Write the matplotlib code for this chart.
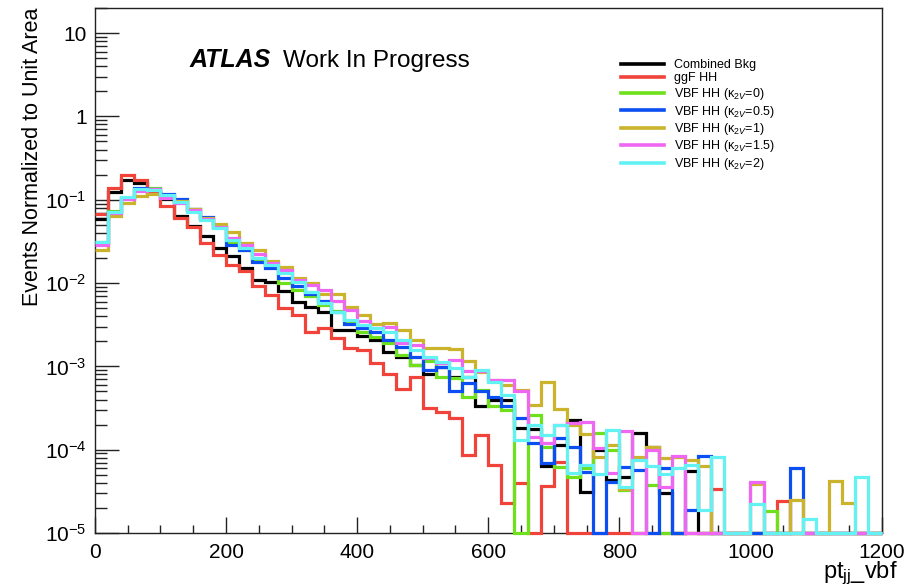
import numpy as np
import matplotlib
matplotlib.use("Agg")
import matplotlib.pyplot as plt
from matplotlib.lines import Line2D
from matplotlib.ticker import FixedLocator, FixedFormatter, MultipleLocator, LogLocator, NullFormatter

plt.rcParams["font.family"] = ["Liberation Sans", "DejaVu Sans"]
plt.rcParams["mathtext.fontset"] = "custom"
plt.rcParams["mathtext.rm"] = "Liberation Sans"
plt.rcParams["mathtext.it"] = "Liberation Sans:italic"
plt.rcParams["mathtext.bf"] = "Liberation Sans:bold"

# 60 bins of 20 GeV in pt_jj_vbf, 0 - 1200
bin_edges = np.arange(0, 1201, 20)

combined_bkg = [0.059, 0.123, 0.173, 0.158, 0.124, 0.101, 0.063, 0.049, 0.037, 0.026,
                0.021, 0.015, 0.011, 0.0104, 0.0080, 0.0059, 0.0052, 0.0045, 0.0027, 0.0027,
                0.0023, 0.0021, 0.0015, 0.0013, 0.00104, 0.00082, 0.00097, 0.00075, 0.00075, 0.00033,
                0.00040, 0.00040, 0.00018, 0.000177, 6.3e-5, 1.14e-4, 2.3e-4, 3.1e-5, 9.9e-5, 4.3e-5,
                4.7e-5, 1.57e-4, 1.09e-4, 3.0e-5, 0, 5.6e-5, 0, 0, 0, 0,
                0, 0, 0, 0, 0, 0, 0, 0, 0, 0]

ggf_hh = [0.067, 0.140, 0.199, 0.173, 0.121, 0.083, 0.060, 0.0475, 0.030, 0.0217,
          0.0166, 0.0140, 0.0091, 0.0072, 0.0050, 0.0041, 0.0026, 0.0029, 0.0022, 0.00165,
          0.00157, 0.00109, 0.00081, 0.00053, 0.00075, 0.00032, 0.00028, 0.00024, 8.6e-5, 1.5e-4,
          6.5e-5, 2.3e-5, 4.0e-5, 0, 3.7e-5, 7.2e-5, 0, 0, 0, 0,
          0, 0, 0, 0, 0, 0, 0, 3.35e-5, 0, 0,
          0, 0, 2.4e-5, 0, 0, 0, 0, 0, 0, 0]

vbf_k2v_0 = [0.031, 0.073, 0.106, 0.135, 0.138, 0.115, 0.097, 0.077, 0.061, 0.047,
             0.031, 0.025, 0.0195, 0.0155, 0.0100, 0.0083, 0.0069, 0.0055, 0.0046, 0.0035,
             0.0026, 0.00225, 0.0019, 0.00137, 0.00104, 0.00116, 0.00075, 0.00073, 0.00043, 0.00052,
             0.00033, 0.00030, 0, 2.6e-4, 1.09e-4, 6.2e-5, 4.7e-5, 6.0e-5, 1.57e-4, 9.9e-5,
             3.3e-5, 0, 3.8e-5, 0, 0, 0, 0, 0, 0, 0,
             0, 1.84e-5, 0, 0, 0, 0, 0, 0, 0, 0]

vbf_k2v_05 = [0.030, 0.072, 0.105, 0.137, 0.135, 0.116, 0.102, 0.078, 0.062, 0.047,
              0.029, 0.0249, 0.0181, 0.0153, 0.0114, 0.0093, 0.0074, 0.0061, 0.0045, 0.0032,
              0.0029, 0.0026, 0.00207, 0.00173, 0.00129, 0.00091, 0.00099, 0.0005, 0.00063, 0.0005,
              0.00043, 0.00033, 2.4e-4, 1.19e-4, 6.9e-5, 1.37e-4, 1.09e-4, 5.4e-5, 0, 4.1e-5,
              6.2e-5, 5.7e-5, 0, 6.0e-5, 0, 1.9e-5, 8.4e-5, 0, 0, 0,
              0, 0, 0, 6.0e-5, 0, 0, 0, 0, 0, 0]

vbf_k2v_1 = [0.0252, 0.064, 0.091, 0.112, 0.116, 0.111, 0.097, 0.078, 0.061, 0.051,
             0.0407, 0.030, 0.0249, 0.0184, 0.0157, 0.0116, 0.0100, 0.0074, 0.0074, 0.0052,
             0.0041, 0.0032, 0.0033, 0.00273, 0.00207, 0.00165, 0.00165, 0.0016, 0.00117, 0.00086,
             0.00069, 0.0006, 0.00052, 0.00034, 0.00065, 3.1e-4, 2.0e-4, 1.54e-4, 8.2e-5, 1.14e-4,
             3.4e-5, 8.2e-5, 1.09e-4, 7.9e-5, 8.2e-5, 7.5e-5, 6.4e-5, 0, 0, 0,
             3.9e-5, 0, 0, 2.5e-5, 0, 0, 4.2e-5, 2.3e-5, 0, 0]

vbf_k2v_15 = [0.0286, 0.070, 0.101, 0.128, 0.134, 0.105, 0.091, 0.0755, 0.059, 0.047,
              0.0345, 0.0286, 0.0222, 0.0173, 0.0144, 0.0109, 0.0095, 0.0083, 0.0061, 0.0048,
              0.0035, 0.0029, 0.0030, 0.0019, 0.0018, 0.00125, 0.00111, 0.00119, 0.00089, 0.00089,
              0.00069, 0.00069, 0.0005, 1.43e-4, 1.19e-4, 1.98e-4, 2.07e-4, 2.17e-4, 1.04e-4, 5.3e-5,
              1.69e-4, 0, 9.9e-5, 3.6e-5, 8.4e-5, 0, 0, 0, 0, 0,
              4.1e-5, 0, 0, 0, 0, 0, 0, 0, 0, 0]

vbf_k2v_2 = [0.0309, 0.072, 0.107, 0.135, 0.131, 0.114, 0.095, 0.072, 0.057, 0.046,
             0.033, 0.0267, 0.0202, 0.0165, 0.0131, 0.0102, 0.0078, 0.0057, 0.0045, 0.0036,
             0.0031, 0.0029, 0.0026, 0.00207, 0.00157, 0.00129, 0.00113, 0.00096, 0.00075, 0.00091,
             0.00065, 0.00045, 1.3e-4, 1.98e-4, 1.5e-4, 1.98e-4, 5.2e-5, 6.5e-5, 5.1e-5, 1.72e-4,
             3.6e-5, 7.5e-5, 6.4e-5, 5.1e-5, 6.0e-5, 6.5e-5, 1.9e-5, 8.1e-5, 0, 0,
             2.2e-5, 0, 0, 0, 1.46e-5, 0, 0, 0, 4.7e-5, 0]

series_labels = ["Combined Bkg", "ggF HH",
                 "VBF HH (κ$_{2V}$=0)", "VBF HH (κ$_{2V}$=0.5)",
                 "VBF HH (κ$_{2V}$=1)", "VBF HH (κ$_{2V}$=1.5)",
                 "VBF HH (κ$_{2V}$=2)"]
series_colors = ["#000000", "#f0433a", "#6fe01c", "#0b4ff2", "#cbb42c", "#ee66f2", "#62f2f4"]
series_values = [combined_bkg, ggf_hh, vbf_k2v_0, vbf_k2v_05, vbf_k2v_1, vbf_k2v_15, vbf_k2v_2]

y_min, y_max = 1e-5, 20.0

fig = plt.figure(figsize=(9.08, 5.87), dpi=100)
ax = fig.add_axes([94.9 / 908, 1 - 533 / 587, 786.6 / 908, 525 / 587])

for vals, color in zip(series_values, series_colors):
    v = np.asarray(vals, dtype=float)
    # empty bins are drawn on the bottom of the frame
    v = np.where(v > 0, v, y_min)
    ax.stairs(v, bin_edges, baseline=None, color=color, linewidth=2.3, clip_on=False, zorder=3)

ax.set_yscale("log")
ax.set_xlim(0, 1200)
ax.set_ylim(y_min, y_max)

# axis ticks, drawn inside the frame on the left and bottom only
ax.xaxis.set_major_locator(MultipleLocator(200))
ax.xaxis.set_minor_locator(MultipleLocator(50))
ax.yaxis.set_major_locator(FixedLocator([1e-5, 1e-4, 1e-3, 1e-2, 1e-1, 1, 10]))
ax.yaxis.set_major_formatter(FixedFormatter([r"$10^{-5}$", r"$10^{-4}$", r"$10^{-3}$",
                                             r"$10^{-2}$", r"$10^{-1}$", "1", "10"]))
ax.yaxis.set_minor_locator(LogLocator(base=10, subs=np.arange(2, 10), numticks=20))
ax.yaxis.set_minor_formatter(NullFormatter())
ax.tick_params(axis="both", which="both", direction="in", top=False, right=False,
               labelsize=15, width=1.0, color="#222222")
ax.tick_params(axis="x", which="major", length=11.5, pad=7)
ax.tick_params(axis="x", which="minor", length=5.8)
ax.tick_params(axis="y", which="major", length=17, pad=6)
ax.tick_params(axis="y", which="minor", length=8.5)
for s in ax.spines.values():
    s.set_linewidth(1.0)
    s.set_color("#222222")

ax.set_ylabel("Events Normalized to Unit Area", fontsize=15.5, loc="top")
ax.yaxis.set_label_coords(-0.066, 1.0)
fig.text(898 / 908, 1 - 578 / 587, r"pt$_{\mathregular{jj}}$_vbf", fontsize=17,
         ha="right", va="baseline")

fig.text(190 / 908, 1 - 67 / 587, "ATLAS", fontsize=18, fontweight="bold",
         fontstyle="italic", ha="left", va="baseline")
fig.text(283 / 908, 1 - 67 / 587, "Work In Progress", fontsize=17.5,
         ha="left", va="baseline")

handles = [Line2D([0], [0], color=c, lw=2.6) for c in series_colors]
ax.legend(handles, series_labels, loc="upper left", bbox_to_anchor=(621 / 908, 1 - 59 / 587),
          bbox_transform=fig.transFigure, frameon=False, fontsize=9, handlelength=3.4,
          handletextpad=0.85, labelspacing=0.12, borderpad=0, borderaxespad=0)

fig.savefig("out.png", dpi=100)
